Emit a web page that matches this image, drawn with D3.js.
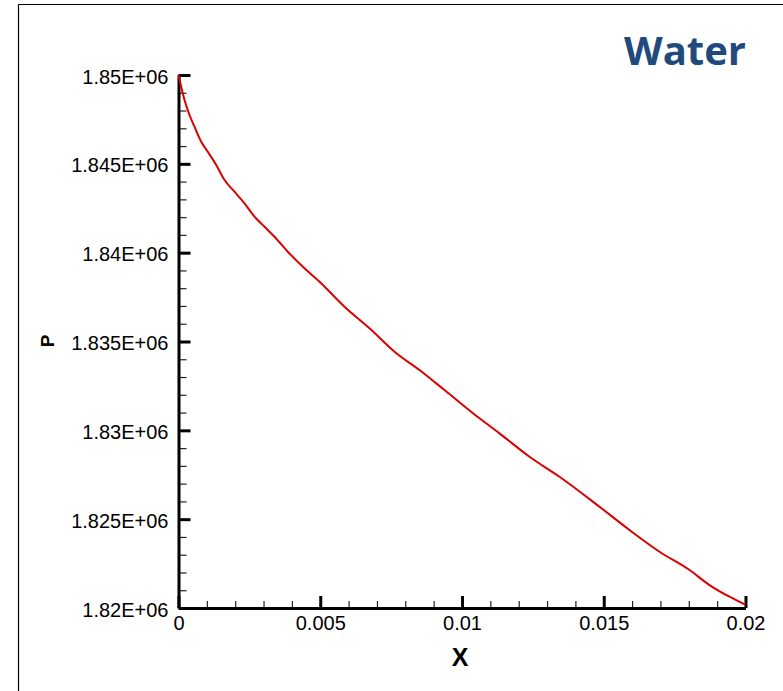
<!DOCTYPE html>
<html>
<head>
<meta charset="utf-8">
<script src="https://cdn.jsdelivr.net/npm/d3@7"></script>
<style>
  html, body { margin: 0; padding: 0; background: #fff; }
  svg { display: block; }
</style>
</head>
<body>
<svg id="chart" width="783" height="691"></svg>
<script>
// Pressure profile along the channel (water)
const xValues = [0, 0.000212, 0.000388, 0.000564, 0.000801, 0.001033, 0.00133, 0.001623,
  0.001975, 0.002328, 0.002681, 0.003034, 0.003386, 0.003855, 0.004444, 0.004974,
  0.005855, 0.006737, 0.007619, 0.0085, 0.009382, 0.010617, 0.011323, 0.012381,
  0.013439, 0.01485, 0.015908, 0.016966, 0.018025, 0.01873, 0.019436, 0.019902, 0.02];
const pValues = [1850000, 1848593, 1847748, 1847090, 1846245, 1845683, 1844934, 1844090,
  1843431, 1842778, 1842024, 1841461, 1840898, 1840054, 1839119, 1838365,
  1836957, 1835742, 1834424, 1833394, 1832269, 1830676, 1829831, 1828514,
  1827388, 1825700, 1824388, 1823167, 1822136, 1821292, 1820634, 1820262, 1820180];

const xTicks = [0, 0.005, 0.01, 0.015, 0.02];
const xTickLabels = ["0", "0.005", "0.01", "0.015", "0.02"];
const yTicks = [1820000, 1825000, 1830000, 1835000, 1840000, 1845000, 1850000];
const yTickLabels = ["1.82E+06", "1.825E+06", "1.83E+06", "1.835E+06", "1.84E+06", "1.845E+06", "1.85E+06"];
const xMinorStep = 0.001;
const yMinorStep = 1000;

const svg = d3.select("#chart");

// frame lines
svg.append("line").attr("x1", 18.5).attr("y1", 4.5).attr("x2", 783).attr("y2", 4.5)
  .attr("stroke", "#000").attr("stroke-width", 1.2);
svg.append("line").attr("x1", 18.5).attr("y1", 4.5).attr("x2", 18.5).attr("y2", 691)
  .attr("stroke", "#000").attr("stroke-width", 1.2);

const plotLeft = 178.5, plotRight = 745.5, plotTop = 75, plotBottom = 608;
const x = d3.scaleLinear().domain([0, 0.02]).range([plotLeft, plotRight]);
const y = d3.scaleLinear().domain([1820000, 1850000]).range([plotBottom, plotTop]);

const xMinor = d3.range(0, 0.02 + 1e-9, xMinorStep).filter(v => !xTicks.some(t => Math.abs(t - v) < 1e-9));
const yMinor = d3.range(1820000, 1850001, yMinorStep).filter(v => !yTicks.includes(v));

const font = "'Liberation Sans', Arial, sans-serif";

// minor ticks
svg.append("g").attr("transform", `translate(0,${plotBottom})`)
  .call(d3.axisBottom(x).tickValues(xMinor).tickSize(-7).tickSizeOuter(0).tickFormat(""))
  .call(g => g.select(".domain").remove())
  .call(g => g.selectAll(".tick line").attr("stroke", "#222").attr("stroke-width", 1.2));
svg.append("g").attr("transform", `translate(${plotLeft},0)`)
  .call(d3.axisLeft(y).tickValues(yMinor).tickSize(-8).tickSizeOuter(0).tickFormat(""))
  .call(g => g.select(".domain").remove())
  .call(g => g.selectAll(".tick line").attr("stroke", "#222").attr("stroke-width", 1.2));

// major axes
svg.append("g").attr("transform", `translate(0,${plotBottom})`)
  .call(d3.axisBottom(x).tickValues(xTicks).tickSize(-12).tickSizeOuter(0).tickPadding(8)
    .tickFormat((d, i) => xTickLabels[i]))
  .call(g => g.select(".domain").attr("stroke", "#000").attr("stroke-width", 3))
  .call(g => g.selectAll(".tick line").attr("stroke", "#000").attr("stroke-width", 3))
  .call(g => g.selectAll(".tick text").attr("font-family", font).attr("font-size", 20).attr("fill", "#000"));
svg.append("g").attr("transform", `translate(${plotLeft},0)`)
  .call(d3.axisLeft(y).tickValues(yTicks).tickSize(-12).tickSizeOuter(0).tickPadding(10)
    .tickFormat((d, i) => yTickLabels[i]))
  .call(g => g.select(".domain").attr("stroke", "#000").attr("stroke-width", 3))
  .call(g => g.selectAll(".tick line").attr("stroke", "#000").attr("stroke-width", 3))
  .call(g => g.selectAll(".tick text").attr("font-family", font).attr("font-size", 20)
    .attr("fill", "#000").attr("dy", "0.4em"));

// pressure curve
const line = d3.line().x((d, i) => x(xValues[i])).y(d => y(d)).curve(d3.curveMonotoneX);
svg.append("path").datum(pValues)
  .attr("d", line)
  .attr("fill", "none")
  .attr("stroke", "#dd0000")
  .attr("stroke-width", 2)
  .attr("stroke-linejoin", "round");

// axis titles
svg.append("text").attr("x", 460).attr("y", 666)
  .attr("text-anchor", "middle").attr("font-family", font).attr("font-weight", "bold")
  .attr("font-size", 25).text("X");
svg.append("text").attr("transform", `translate(54,341) rotate(-90)`)
  .attr("text-anchor", "middle").attr("font-family", font).attr("font-weight", "bold")
  .attr("font-size", 19).text("P");

// title
svg.append("text").attr("x", 746).attr("y", 65)
  .attr("text-anchor", "end").attr("font-family", "'Open Sans', sans-serif").attr("font-weight", "bold")
  .attr("font-size", 40).attr("fill", "#1f4a7c").text("Water");
</script>
</body>
</html>
